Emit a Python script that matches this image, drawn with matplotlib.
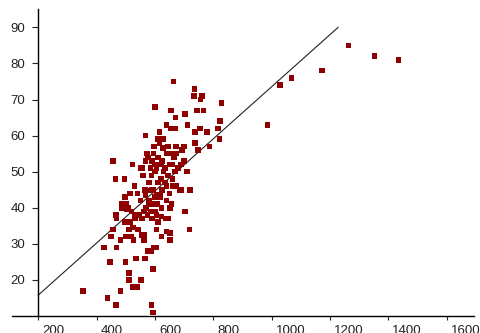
import matplotlib
matplotlib.use("Agg")
import matplotlib.pyplot as plt
import matplotlib.transforms as mtransforms

# ---- data ----
outlier_x = [986, 1028, 1069, 1172, 1263, 1353, 1435]
outlier_y = [63, 74, 76, 78, 85, 82, 81]

low_x = [354, 437, 466, 482, 589, 594, 593, 511, 511, 552, 525, 540, 425, 469, 446, 499, 535, 566, 577, 589, 597, 606]
low_y = [17, 15, 13, 17, 13, 11, 23, 22, 20, 20, 18, 18, 29, 29, 25, 25, 26, 26, 28, 28, 29, 29]

band30_x = [449, 457, 482, 500, 511, 520, 526, 554, 562, 562, 606, 623, 652, 652, 640, 718,
            466, 469, 486, 495, 497, 514, 531, 525, 542, 502, 510, 520, 486, 500, 530, 545,
            555, 563, 575, 585, 594, 608, 623, 617, 606, 606, 623, 646, 651, 657, 600, 637,
            703, 580, 570, 590, 610]
band30_y = [32, 34, 31, 32, 34, 32, 31, 32.5, 32.5, 31, 34, 32, 33, 31, 33.4, 34,
            38, 37, 40, 36, 36, 36, 37, 34.5, 34, 39.5, 40, 39, 41, 41, 38, 38,
            37, 39, 38, 39, 41, 41, 40, 43.5, 43.5, 38, 37.6, 37, 40, 41, 39, 37,
            39, 41, 40, 37, 36]

band40_x = [497, 515, 530, 465, 495, 560, 589, 566, 594, 571, 568, 589, 600, 617, 634, 640,
            674, 686, 691, 720, 668, 555, 580, 610, 620, 600, 630, 645, 660, 650, 660, 625,
            540, 550, 580, 640]
band40_y = [43, 44, 46, 48, 48, 49, 49, 45, 45, 44.8, 43.6, 45, 43, 43, 47, 46,
            46, 45, 45, 45, 50, 51, 47, 47, 48, 50, 50, 49, 48, 44, 46, 45,
            44, 42, 42, 42]

band50_x = [457, 523, 572, 568, 577, 568, 590, 597, 610, 630, 615, 627, 645, 655, 672, 672,
            692, 700, 738, 747, 787, 821, 640, 605, 620, 660, 680, 700, 550, 610, 625, 650,
            585, 595, 635, 665, 690, 710, 600]
band50_y = [53, 52, 55, 60, 54, 53, 53, 57, 59, 59, 58, 56.5, 57, 55, 57, 55,
            56, 57, 58, 56, 57, 59, 55, 51, 52, 52, 51, 53, 51, 54, 53, 52,
            51, 55, 51, 54, 52, 50, 52]

high_x = [601, 664, 656, 670, 640, 655, 670, 615, 712, 704, 736, 734, 761, 756, 745, 766,
          755, 738, 778, 829, 824, 817]
high_y = [68, 75, 67, 65, 63, 62, 62, 61, 63, 66, 73, 71, 71, 70, 67, 67,
          62, 61, 61, 69, 64, 62]

trend_x = [200, 1228]
trend_y = [15.8, 90]

x_ticks = [200, 400, 600, 800, 1000, 1200, 1400, 1600]
y_ticks = [20, 30, 40, 50, 60, 70, 80, 90]

xs = outlier_x + low_x + band30_x + band40_x + band50_x + high_x
ys = outlier_y + low_y + band30_y + band40_y + band50_y + high_y

# ---- figure ----
fig = plt.figure(figsize=(4.8, 3.33), dpi=100)
ax = fig.add_axes([0.025, 0.052, 0.9625, 0.921])
ax.set_xlim(110, 1694)
ax.set_ylim(10.1, 95.1)

ax.plot(trend_x, trend_y, color="#222222", lw=0.8, zorder=2)
ax.scatter(xs, ys, marker="s", s=16, color="#8f0000", edgecolors="none", zorder=3)

for s in ["top", "right"]:
    ax.spines[s].set_visible(False)
ax.spines["left"].set_position(("data", 200))
ax.spines["left"].set_linewidth(1.0)
ax.spines["bottom"].set_linewidth(1.0)

label_font = ["Liberation Sans", "DejaVu Sans"]
ax.set_xticks(x_ticks)
ax.set_yticks(y_ticks)
ax.set_xticklabels([str(v) for v in x_ticks], family=label_font, fontsize=9.5,
                   color="#222222", ha="left")
ax.set_yticklabels([str(v) for v in y_ticks], family=label_font, fontsize=9.5,
                   color="#222222")
ax.tick_params(axis="y", direction="out", length=4.5, width=0.8, pad=5, color="#222222")
ax.tick_params(axis="x", direction="out", length=3, width=0.8, pad=4, color="#222222")

offset = mtransforms.ScaledTranslation(4 / 100, 0, fig.dpi_scale_trans)
for lbl in ax.get_xticklabels():
    lbl.set_transform(lbl.get_transform() + offset)

fig.savefig("out.png", dpi=100)
